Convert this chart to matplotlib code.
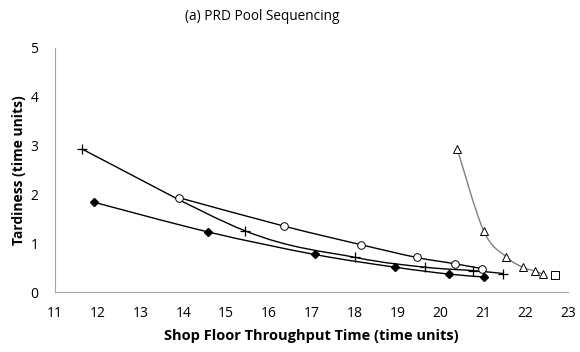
import matplotlib.pyplot as plt
import numpy as np
from matplotlib.path import Path
from matplotlib.patches import PathPatch

plt.rcParams['font.family'] = ['Open Sans', 'DejaVu Sans']

# series
plus_x = [11.62, 15.45, 18.02, 19.65, 20.78, 21.48]
plus_y = [2.93, 1.25, 0.71, 0.51, 0.44, 0.38]

circ_x = [13.9, 16.35, 18.15, 19.45, 20.35, 20.98]
circ_y = [1.93, 1.35, 0.97, 0.71, 0.58, 0.48]

diam_x = [11.9, 14.58, 17.07, 18.95, 20.2, 21.03]
diam_y = [1.84, 1.23, 0.77, 0.51, 0.37, 0.31]

tri_x = [20.4, 21.02, 21.55, 21.93, 22.22, 22.4]
tri_y = [2.93, 1.25, 0.72, 0.51, 0.43, 0.37]

sq_x = [22.68]
sq_y = [0.36]


def smooth(ax, xs, ys, color):
    # Excel-style smoothed line (Catmull-Rom as cubic beziers)
    pts = np.column_stack([xs, ys])
    verts = [pts[0]]
    codes = [Path.MOVETO]
    n = len(pts)
    for i in range(n - 1):
        p0 = pts[i - 1] if i > 0 else pts[i]
        p1 = pts[i]
        p2 = pts[i + 1]
        p3 = pts[i + 2] if i + 2 < n else pts[i + 1]
        c1 = p1 + (p2 - p0) / 6
        c2 = p2 - (p3 - p1) / 6
        verts += [c1, c2, p2]
        codes += [Path.CURVE4] * 3
    ax.add_patch(PathPatch(Path(verts, codes), fill=False, edgecolor=color, lw=1.0, zorder=2))


fig, ax = plt.subplots(figsize=(5.8, 3.52), dpi=100)
fig.subplots_adjust(left=0.095, right=0.98, top=0.865, bottom=0.17)

smooth(ax, plus_x, plus_y, 'black')
smooth(ax, circ_x, circ_y, 'black')
smooth(ax, diam_x, diam_y, 'black')
smooth(ax, tri_x, tri_y, '#808080')

ax.plot(plus_x, plus_y, ls='none', marker='+', ms=7, mew=0.9, color='black', zorder=3)
ax.plot(circ_x, circ_y, ls='none', marker='o', ms=5.5, mfc='white', mec='black', mew=0.7, zorder=3)
ax.plot(diam_x, diam_y, ls='none', marker='D', ms=4.2, color='black', zorder=3)
ax.plot(tri_x, tri_y, ls='none', marker='^', ms=6, mfc='white', mec='black', mew=0.7, zorder=3)
ax.plot(sq_x, sq_y, ls='none', marker='s', ms=5.5, mfc='white', mec='black', mew=0.7, zorder=3)

ax.set_xlim(11, 23)
ax.set_ylim(0, 5)
ax.set_xticks(range(11, 24))
ax.set_yticks(range(0, 6))
ax.tick_params(length=0, labelsize=10, pad=10)
ax.tick_params(axis='y', pad=12)

for s in ['top', 'right']:
    ax.spines[s].set_visible(False)
for s in ['left', 'bottom']:
    ax.spines[s].set_color('#a6a6a6')

fig.text(0.452, 0.952, '(a) PRD Pool Sequencing', fontsize=9.8, ha='center', va='center')
ax.set_xlabel('Shop Floor Throughput Time (time units)', fontsize=10.5, fontweight='bold', labelpad=6)
ax.set_ylabel('Tardiness (time units)', fontsize=10, fontweight='bold', labelpad=3)

plt.savefig('out.png', dpi=100)
